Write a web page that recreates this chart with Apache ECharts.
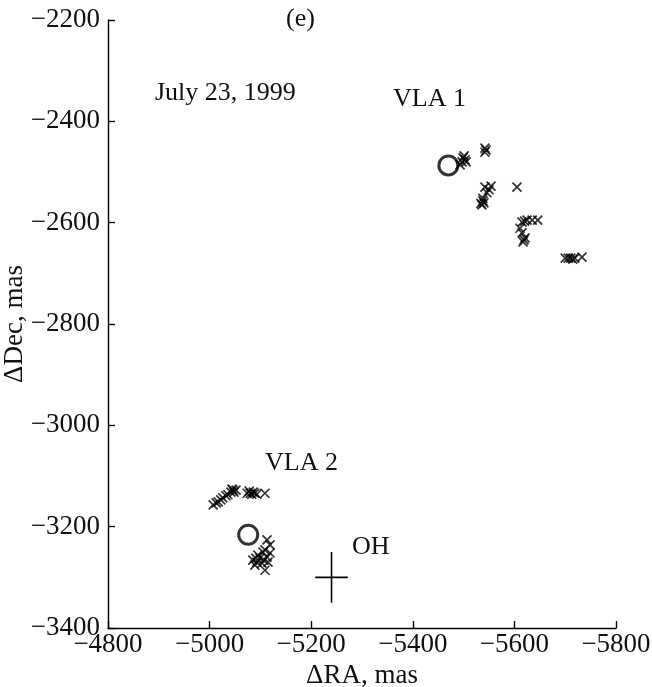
<!DOCTYPE html>
<html>
<head>
<meta charset="utf-8">
<script src="https://cdn.jsdelivr.net/npm/echarts@6/dist/echarts.min.js"></script>
<style>
  html, body { margin: 0; padding: 0; background: #fff; }
  #chart { width: 652px; height: 687px; }
</style>
</head>
<body>
<div id="chart"></div>
<script>
// Maser spot offsets, [ΔRA, ΔDec] in mas
const vla1Spots = [
  [-5499, -2472], [-5505, -2480], [-5501, -2468], [-5493, -2486], [-5503, -2476], [-5497, -2480],
  [-5542, -2453], [-5542, -2461], [-5544, -2457],
  [-5542, -2530], [-5554, -2528], [-5546, -2541], [-5550, -2535],
  [-5538, -2557], [-5536, -2565], [-5540, -2561], [-5538, -2552], [-5534, -2562],
  [-5605, -2530],
  [-5615, -2599], [-5625, -2595], [-5635, -2595], [-5646, -2595], [-5620, -2597],
  [-5611, -2611], [-5615, -2620], [-5621, -2630], [-5617, -2638], [-5619, -2634],
  [-5700, -2670], [-5706, -2670], [-5711, -2670], [-5715, -2672], [-5719, -2670], [-5733, -2668]
];
const vla2Spots = [
  [-5007, -3157], [-5013, -3153], [-5017, -3151], [-5022, -3147], [-5026, -3143],
  [-5032, -3139], [-5036, -3137], [-5042, -3132], [-5046, -3128], [-5052, -3128],
  [-5044, -3126], [-5048, -3132],
  [-5074, -3134], [-5080, -3134], [-5083, -3136], [-5089, -3134], [-5093, -3136],
  [-5078, -3130], [-5086, -3132],
  [-5109, -3134],
  [-5113, -3226], [-5119, -3236],
  [-5095, -3256], [-5105, -3250], [-5119, -3252], [-5113, -3260], [-5109, -3246],
  [-5085, -3266], [-5093, -3270], [-5103, -3272], [-5089, -3276], [-5115, -3270],
  [-5099, -3262], [-5107, -3266], [-5091, -3262],
  [-5109, -3286]
];
// Continuum source positions
const vlaSources = [[-5470, -2487], [-5076, -3216]];
// OH maser position with half-extent of its error cross [ΔRA, ΔDec, ±RA, ±Dec]
const ohSource = [[-5240, -3300, 32, 50]];

const raRange = [-5800, -4800];
const decRange = [-3400, -2200];
const tickStep = 200;

const serif = '"Liberation Serif", "DejaVu Serif", serif';
const ink = '#111';
const minus = v => String(v).replace('-', '\u2212');

const chart = echarts.init(document.getElementById('chart'));

const axisCommon = {
  type: 'value',
  interval: tickStep,
  splitLine: { show: false },
  axisLine: { show: true, onZero: false, lineStyle: { color: '#000', width: 1.4 } },
  axisTick: { show: true, inside: true, length: 7, lineStyle: { color: '#000', width: 1.4 } },
  axisLabel: { color: ink, fontFamily: serif, fontSize: 27, formatter: minus },
  nameTextStyle: { color: ink, fontFamily: serif, fontSize: 27 }
};

chart.setOption({
  animation: false,
  backgroundColor: '#fff',
  grid: { left: 108, right: 36, top: 20, bottom: 59, outerBoundsMode: 'none', containLabel: false },
  xAxis: Object.assign({}, axisCommon, {
    min: raRange[0], max: raRange[1], inverse: true,
    name: '\u0394RA, mas', nameLocation: 'middle', nameGap: 34,
    axisLabel: Object.assign({}, axisCommon.axisLabel, { margin: 3 })
  }),
  yAxis: Object.assign({}, axisCommon, {
    min: decRange[0], max: decRange[1],
    name: '\u0394Dec, mas', nameLocation: 'middle', nameGap: 80, nameMoveOverlap: false,
    axisLabel: Object.assign({}, axisCommon.axisLabel, { margin: 8 })
  }),
  series: [
    {
      type: 'scatter', data: vla1Spots.concat(vla2Spots),
      symbol: 'path://M0,0L10,10M10,0L0,10', symbolSize: 9,
      itemStyle: { color: 'rgba(0,0,0,0)', borderColor: '#000', borderWidth: 1.7 },
      z: 3
    },
    {
      type: 'scatter', data: vlaSources,
      symbol: 'circle', symbolSize: 19,
      itemStyle: { color: 'rgba(0,0,0,0)', borderColor: '#000', borderWidth: 3 },
      z: 2
    },
    {
      type: 'custom', data: ohSource,
      renderItem: (params, api) => {
        const x = api.value(0), y = api.value(1), dx = api.value(2), dy = api.value(3);
        const l = api.coord([x - dx, y]), r = api.coord([x + dx, y]);
        const t = api.coord([x, y + dy]), b = api.coord([x, y - dy]);
        const st = { stroke: '#000', lineWidth: 1.6 };
        return {
          type: 'group',
          children: [
            { type: 'line', shape: { x1: l[0], y1: l[1], x2: r[0], y2: r[1] }, style: st },
            { type: 'line', shape: { x1: t[0], y1: t[1], x2: b[0], y2: b[1] }, style: st }
          ]
        };
      }
    }
  ],
  graphic: [
    { type: 'text', left: 286, top: 6, style: { text: '(e)', font: '26px ' + serif, fill: ink } },
    { type: 'text', left: 155, top: 80, style: { text: 'July 23, 1999', font: '26px ' + serif, fill: ink } },
    { type: 'text', left: 393, top: 86, style: { text: 'VLA 1', font: '26px ' + serif, fill: ink } },
    { type: 'text', left: 265, top: 450, style: { text: 'VLA 2', font: '26px ' + serif, fill: ink } },
    { type: 'text', left: 352, top: 534, style: { text: 'OH', font: '26px ' + serif, fill: ink } }
  ]
});
</script>
</body>
</html>
